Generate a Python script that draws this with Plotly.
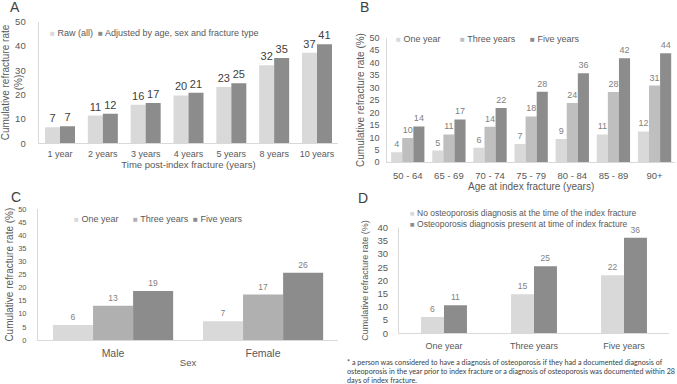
import plotly.graph_objects as go

W, H = 677, 384

# ---------------- data ----------------
a_cats = ["1 year", "2 years", "3 years", "4 years", "5 years", "8 years", "10 years"]
a_raw = [6.6, 11.4, 15.9, 19.7, 23.2, 32.1, 37.2]
a_adj = [7.0, 12.1, 16.6, 20.8, 24.7, 35.1, 40.7]

b_cats = ["50 - 64", "65 - 69", "70 - 74", "75 - 79", "80 - 84", "85 - 89", "90+"]
b_one = [4.0, 4.7, 5.8, 7.3, 9.3, 11.2, 12.4]
b_three = [9.8, 11.2, 14.3, 18.4, 23.8, 28.2, 30.8]
b_five = [14.4, 17.2, 21.8, 28.3, 35.7, 41.8, 43.8]

c_cats = ["Male", "Female"]
c_one = [5.7, 7.2]
c_three = [13.1, 17.4]
c_five = [18.7, 25.7]

d_cats = ["One year", "Three years", "Five years"]
d_no = [6.2, 14.8, 22.0]
d_yes = [10.6, 25.4, 36.2]

LIGHT, MID, DARK = "#d9d9d9", "#bfbfbf", "#8c8c8c"
MID_C = "#b0b0b0"
TXT = "#595959"
FONT = "Liberation Sans, Arial, sans-serif"

def px(x):
    return x / W

def py(y):
    return 1 - y / H

fig = go.Figure()

def add_bar(x, y, color, xa, ya, name, width, offset, tsize, tcolor):
    fig.add_trace(go.Bar(
        x=x, y=y, name=name, marker=dict(color=color, line=dict(width=0)),
        xaxis=xa, yaxis=ya, width=width, offset=offset,
        texttemplate="%{y:.0f}", textposition="outside", cliponaxis=False,
        textfont=dict(size=tsize, color=tcolor, family=FONT),
        showlegend=False,
    ))

# Panel A
add_bar(a_cats, a_raw, LIGHT, "x", "y", "Raw (all)", 0.35, -0.35, 11, "#404040")
add_bar(a_cats, a_adj, DARK, "x", "y", "Adjusted by age, sex and fracture type", 0.35, 0.0, 11, "#404040")
# Panel B
add_bar(b_cats, b_one, LIGHT, "x2", "y2", "One year", 0.27, -0.405, 9, "#7f7f7f")
add_bar(b_cats, b_three, MID, "x2", "y2", "Three years", 0.27, -0.135, 9, "#7f7f7f")
add_bar(b_cats, b_five, DARK, "x2", "y2", "Five years", 0.27, 0.135, 9, "#7f7f7f")
# Panel C
add_bar(c_cats, c_one, LIGHT, "x3", "y3", "One year", 0.267, -0.4, 8.5, "#7f7f7f")
add_bar(c_cats, c_three, MID_C, "x3", "y3", "Three years", 0.267, -0.133, 8.5, "#7f7f7f")
add_bar(c_cats, c_five, DARK, "x3", "y3", "Five years", 0.267, 0.134, 8.5, "#7f7f7f")
# Panel D
add_bar(d_cats, d_no, LIGHT, "x4", "y4", "No osteoporosis diagnosis at the time of the index fracture", 0.255, -0.255, 8.5, "#7f7f7f")
add_bar(d_cats, d_yes, DARK, "x4", "y4", "Osteoporosis diagnosis present at time of index fracture", 0.255, 0.0, 8.5, "#7f7f7f")

def xax(dom, anchor, n, title, tsize, title_size, standoff, ticklen):
    return dict(domain=[px(dom[0]), px(dom[1])], anchor=anchor, type="category",
                range=[-0.5, n - 0.5], automargin=False,
                showline=True, linecolor="#d9d9d9", linewidth=1,
                ticks="outside", ticklen=ticklen, tickcolor="rgba(0,0,0,0)",
                tickfont=dict(size=tsize, color=TXT, family=FONT),
                title=dict(text=title, font=dict(size=title_size, color=TXT, family=FONT), standoff=standoff),
                showgrid=False, zeroline=False, fixedrange=True)

def yax(dom, anchor, rng, dtick, title, tsize, title_size, standoff, ticklen):
    return dict(domain=[py(dom[0]), py(dom[1])], anchor=anchor, range=rng, dtick=dtick,
                automargin=False,
                showline=True, linecolor="#d9d9d9", linewidth=1,
                ticks="outside", ticklen=ticklen, tickcolor="rgba(0,0,0,0)",
                tickfont=dict(size=tsize, color=TXT, family=FONT),
                title=dict(text=title, font=dict(size=title_size, color=TXT, family=FONT), standoff=standoff),
                showgrid=False, zeroline=False, fixedrange=True)

layout = dict(
    width=W, height=H, autosize=False,
    margin=dict(l=0, r=0, t=0, b=0, autoexpand=False),
    paper_bgcolor="white", plot_bgcolor="white",
    barmode="overlay", showlegend=False,
    font=dict(family=FONT, color=TXT),
    xaxis=xax((38.6, 338.4), "y", 7, "Time post-index fracture (years)", 9, 9.5, 0, 2),
    yaxis=yax((143.3, 21.7), "x", [0, 50], 10, "Cumulative refracture rate<br>(%)", 9.5, 10, 2, 10),
    xaxis2=xax((387.2, 675.1), "y2", 7, "Age at index fracture (years)", 9.5, 10, 1, 4),
    yaxis2=yax((162.3, 37.7), "x2", [0, 50], 5, "Cumulative refracture rate (%)", 9, 10, 2, 5),
    xaxis3=xax((38, 338), "y3", 2, "Sex", 10.5, 9.5, 1, 3),
    yaxis3=yax((340, 209.3), "x3", [0, 50], 5, "Cumulative refracture rate (%)", 7.5, 10, 2, 9),
    xaxis4=xax((399, 669), "y4", 3, "", 9, 9, 1, 4),
    yaxis4=yax((333.3, 227.7), "x4", [0, 40], 5, "Cumulative refracture rate (%)", 9.5, 9, 7, 8),
)
fig.update_layout(**layout)

ann = []
def text(x, y, s, size, color="#404040", xanchor="left", family=FONT):
    ann.append(dict(x=px(x), y=py(y), xref="paper", yref="paper", text=s, showarrow=False,
                    xanchor=xanchor, yanchor="middle", align="left",
                    font=dict(size=size, color=color, family=family)))

# panel letters
text(15, 7, "A", 14, xanchor="center")
text(364, 7, "B", 14, xanchor="center")
text(16, 197, "C", 14, xanchor="center")
text(363, 198, "D", 14, xanchor="center")

def legend_item(x, y, color, label, size):
    text(x, y, "<span style='color:%s;font-size:%.1fpx'>■</span> %s" % (color, size * 0.9, label), size, color=TXT)

# legends
legend_item(48, 33, LIGHT, "Raw (all)", 9)
legend_item(96, 33, DARK, "Adjusted by age, sex and fracture type", 9)
legend_item(394, 39, LIGHT, "One year", 9)
legend_item(458, 39, MID, "Three years", 9)
legend_item(528, 39, DARK, "Five years", 9)
legend_item(72, 219, LIGHT, "One year", 9)
legend_item(131, 219, MID_C, "Three years", 9)
legend_item(191, 219, DARK, "Five years", 9)
legend_item(408, 213, LIGHT, "No osteoporosis diagnosis at the time of the index fracture", 8.5)
legend_item(408, 224, DARK, "Osteoporosis diagnosis present at time of index fracture", 8.5)

# footnote
foot = ["* a person was considered to have a diagnosis of osteoporosis if they had a documented diagnosis of",
        "osteoporosis in the year prior to index fracture or a diagnosis of osteoporosis was documented within 28",
        "days of index fracture."]
for i, line in enumerate(foot):
    text(345, 362 + 9 * i, line, 7.2, color="#404040", family="Lato, Open Sans, sans-serif")

fig.update_layout(annotations=ann)
fig.write_html("out.html", config={"displayModeBar": False},
               post_script="document.body.style.margin='0px';document.body.style.overflow='hidden';")
